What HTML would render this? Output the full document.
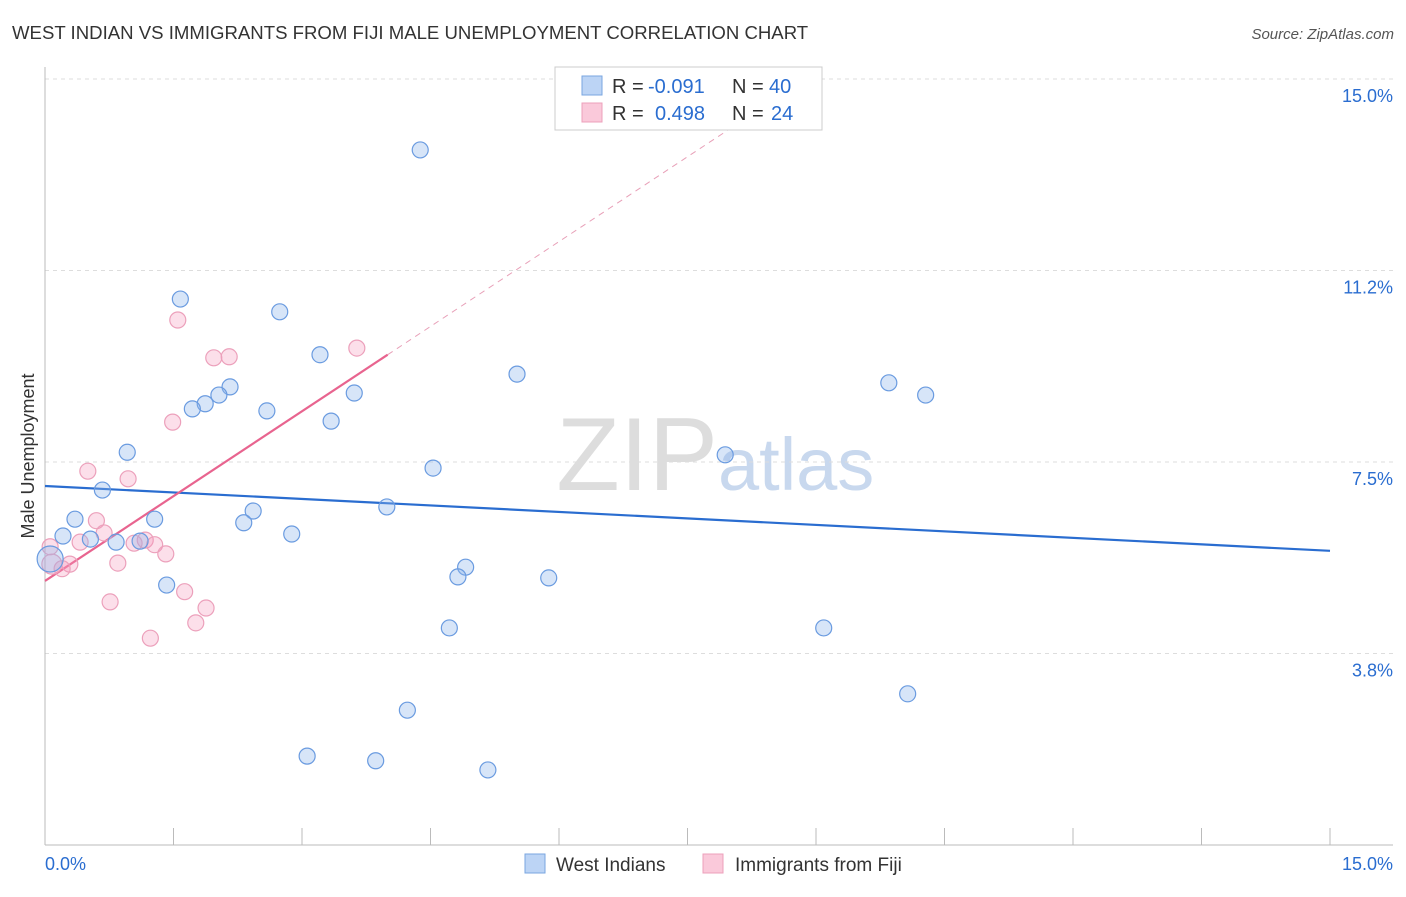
<!DOCTYPE html>
<html><head><meta charset="utf-8"><style>
body{margin:0;background:#fff;font-family:"Liberation Sans",sans-serif}
svg text{font-family:"Liberation Sans",sans-serif}
</style></head><body>
<svg id="chart" width="1406" height="892">
<text x="12" y="39" font-size="18.6" fill="#333">WEST INDIAN VS IMMIGRANTS FROM FIJI MALE UNEMPLOYMENT CORRELATION CHART</text>
<text x="1394" y="39" font-size="15" fill="#555" font-style="italic" text-anchor="end">Source: ZipAtlas.com</text>
<text x="718" y="490" font-size="104" fill="#ddd" text-anchor="end" font-family="Liberation Serif">ZIP</text>
<text x="718" y="490" font-size="74" fill="#c8d8ee">atlas</text>
<text transform="translate(34,456) rotate(-90)" font-size="18" fill="#333" text-anchor="middle">Male Unemployment</text>
<g id="grid"></g><g id="axes"></g><g id="trend"></g><g id="pts"></g>
<g>
<rect x="555" y="67" width="267" height="63" fill="#fff" stroke="#ccc"/>
<rect x="582" y="76" width="20" height="19" fill="#bcd4f5" stroke="#7aa6e0"/>
<rect x="582" y="103" width="20" height="19" fill="#fac9da" stroke="#eca0bb"/>
<text x="612" y="93" font-size="20" fill="#333">R =</text>
<text x="648" y="93" font-size="20" fill="#2a6dd0">-0.091</text>
<text x="732" y="93" font-size="20" fill="#333">N =</text>
<text x="769" y="93" font-size="20" fill="#2a6dd0">40</text>
<text x="612" y="120" font-size="20" fill="#333">R =</text>
<text x="655" y="120" font-size="20" fill="#2a6dd0">0.498</text>
<text x="732" y="120" font-size="20" fill="#333">N =</text>
<text x="771" y="120" font-size="20" fill="#2a6dd0">24</text>
</g>
<g>
<rect x="525" y="854" width="20" height="19" fill="#bcd4f5" stroke="#7aa6e0"/>
<text x="556" y="871" font-size="19" fill="#333">West Indians</text>
<rect x="703" y="854" width="20" height="19" fill="#fac9da" stroke="#eca0bb"/>
<text x="735" y="871" font-size="19" fill="#333">Immigrants from Fiji</text>
</g>
</svg>
<script>
const yTicks=[3.75,7.5,11.25,15];
const yTickLabels=["3.8%","7.5%","11.2%","15.0%"];
const blueX=[4.38,1.58,2.74,3.21,5.51,9.85,10.28,2.16,2.03,1.87,1.72,2.59,3.61,3.34,0.96,4.53,7.94,0.67,3.99,2.43,2.32,1.28,0.35,0.21,0.53,0.83,1.11,2.88,4.91,4.82,5.88,1.42,0.06,4.72,9.09,4.23,10.07,3.06,3.86,5.17];
const blueY=[13.61,10.69,10.44,9.60,9.22,9.05,8.81,8.97,8.81,8.64,8.54,8.50,8.85,8.30,7.69,7.38,7.64,6.95,6.62,6.54,6.31,6.38,6.38,6.05,5.99,5.93,5.95,6.09,5.44,5.25,5.23,5.09,5.60,4.25,4.25,2.64,2.96,1.74,1.65,1.47];
const pinkX=[1.55,1.97,2.15,3.64,1.49,0.50,0.97,0.60,0.69,0.41,0.06,1.17,1.28,1.04,1.41,0.85,0.29,0.20,0.76,1.63,1.88,1.76,1.23,0.08];
const pinkY=[10.28,9.54,9.56,9.73,8.28,7.32,7.17,6.35,6.11,5.93,5.84,5.97,5.88,5.91,5.70,5.52,5.50,5.41,4.76,4.96,4.64,4.35,4.05,5.50];
const blueTrend=[7.03,5.76];
const pinkTrend=[5.17,9.60];
const X=v=>45+v*85.667, Y=v=>845-v*51.07;
const NS="http://www.w3.org/2000/svg";
function mk(tag,parent,attrs){const e=document.createElementNS(NS,tag);for(const k in attrs)e.setAttribute(k,attrs[k]);document.getElementById(parent).appendChild(e);return e;}
yTicks.forEach((t,i)=>{
 const l=mk('line','grid',{x1:45,x2:1393,y1:Y(t),y2:Y(t),stroke:'#ddd','stroke-dasharray':'4,4'});
 
 
 const tx=mk('text','axes',{x:1393,y:Y(t)+23,'font-size':18,fill:'#2a6dd0','text-anchor':'end'});
 tx.textContent=yTickLabels[i];
 
 
});
let a=mk('line','axes',{x1:45,x2:45,y1:67,y2:845,stroke:'#bbb'});


a=mk('line','axes',{x1:45,x2:1393,y1:845,y2:845,stroke:'#bbb'});


for(let i=0;i<=10;i++){const t=mk('line','axes',{x1:X(i*1.5),x2:X(i*1.5),y1:828,y2:845,stroke:'#bbb'});
 
 }
[["0.0%",45,'start'],["15.0%",1393,'end']].forEach(d=>{const t=mk('text','axes',{x:d[1],y:870,'font-size':18,fill:'#2a6dd0','text-anchor':d[2]});t.textContent=d[0];
 
 });
let tl=mk('line','trend',{x1:X(0),y1:Y(blueTrend[0]),x2:X(15),y2:Y(blueTrend[1]),stroke:'#2a6dd0','stroke-width':2.2});


const ps=(pinkTrend[1]-pinkTrend[0])/4;
tl=mk('line','trend',{x1:X(0),y1:Y(pinkTrend[0]),x2:X(4),y2:Y(pinkTrend[1]),stroke:'#e8648f','stroke-width':2.2});


const xe=(15.1-pinkTrend[0])/ps;
tl=mk('line','trend',{x1:X(4),y1:Y(pinkTrend[1]),x2:X(xe),y2:Y(15.1),stroke:'#e8a0b8','stroke-width':1,'stroke-dasharray':'6,5'});


pinkX.forEach((x,i)=>{const c=mk('circle','pts',{cx:X(x),cy:Y(pinkY[i]),r:i==23?10:8,fill:'rgba(245,150,185,0.3)',stroke:'#eca0bb','stroke-width':1.2});
 
 });
blueX.forEach((x,i)=>{const c=mk('circle','pts',{cx:X(x),cy:Y(blueY[i]),r:i==32?13:8,fill:'rgba(140,180,235,0.35)',stroke:'#6a9be0','stroke-width':1.2});
 
 });
</script>
</body></html>
